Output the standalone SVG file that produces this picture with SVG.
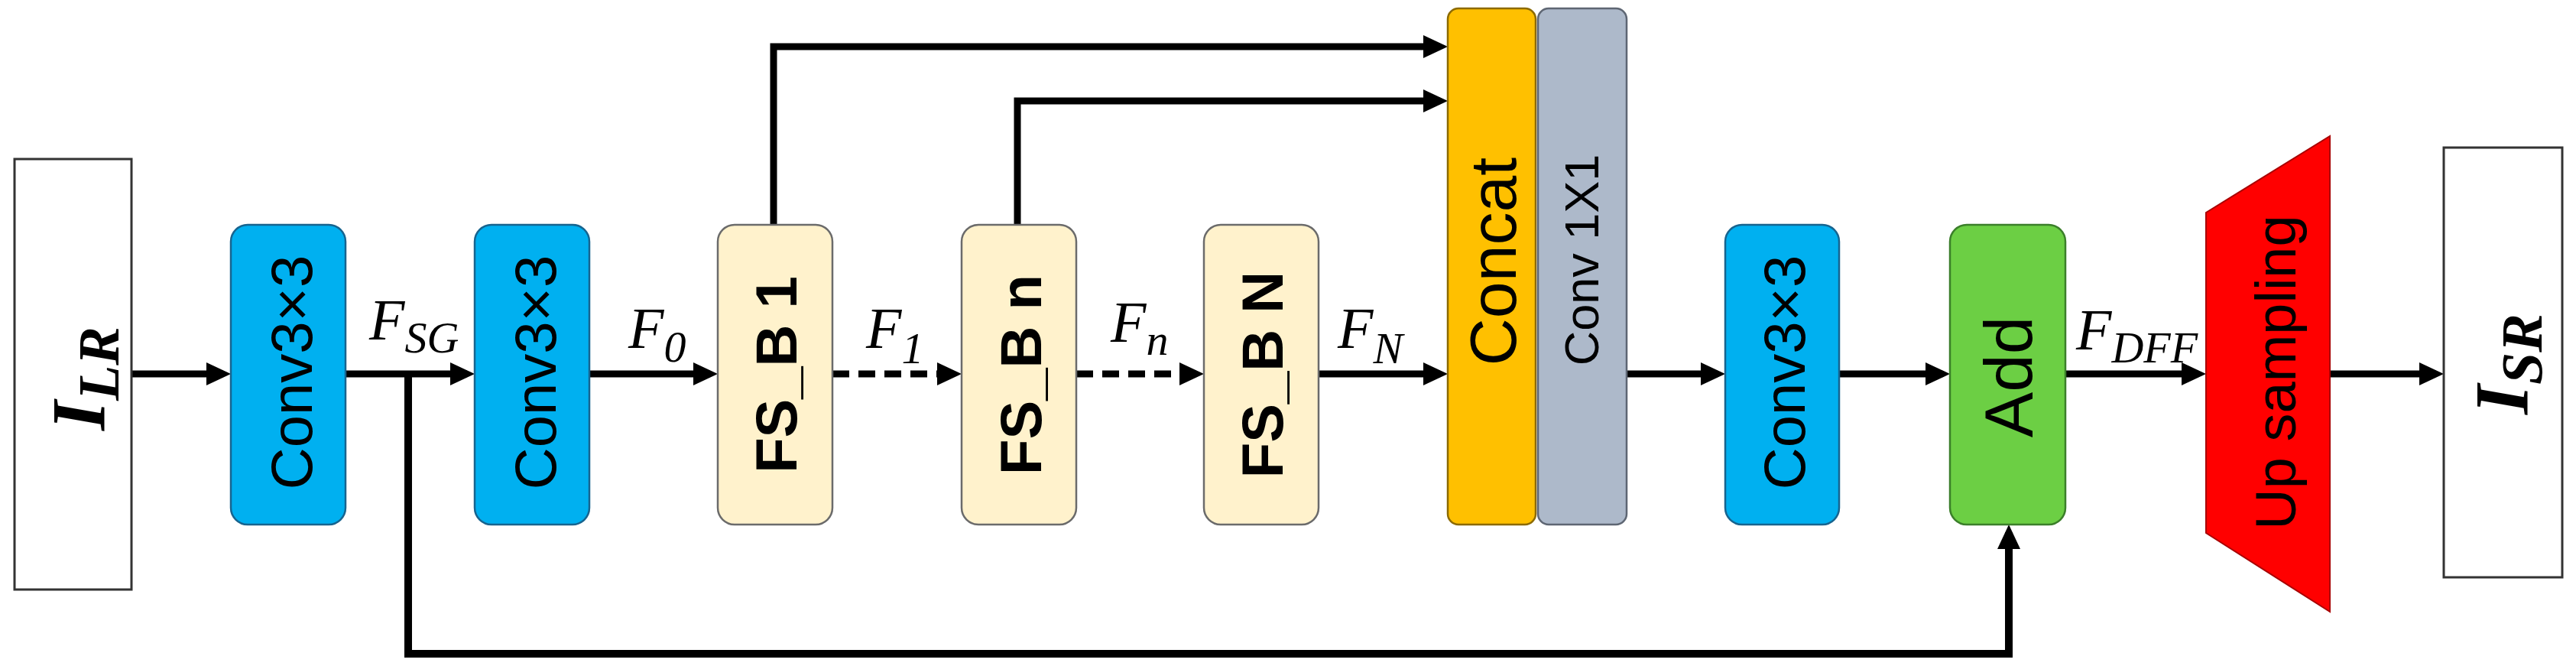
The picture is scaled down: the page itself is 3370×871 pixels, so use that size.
<svg xmlns="http://www.w3.org/2000/svg" width="3370" height="871" viewBox="0 0 3370 871">
  <style>
    .conv { fill: #00B0F0; stroke: #17648F; stroke-width: 2.5; }
    .fsb { fill: #FFF2CC; stroke: #6B6B6B; stroke-width: 2.5; }
    .concat { fill: #FFC000; stroke: #8C6A00; stroke-width: 2.5; }
    .c1 { fill: #ADB9CA; stroke: #5E6673; stroke-width: 2.5; }
    .add { fill: #6CCF44; stroke: #3B7F2A; stroke-width: 2.5; }
    .up { fill: #FF0000; stroke: #A80000; stroke-width: 2; }
    .io { fill: #FFFFFF; stroke: #333333; stroke-width: 3; }
    .lbl { font-family: "Liberation Sans", Arial, sans-serif; fill: #000; text-anchor: middle; }
    .b { font-weight: bold; }
    .math { font-family: "Liberation Serif", "Times New Roman", serif; font-style: italic; fill: #000; }
    .mb { font-family: "Liberation Serif", "Times New Roman", serif; font-style: italic; font-weight: bold; fill: #000; text-anchor: middle; }
    .ln { fill: none; stroke: #000; stroke-width: 9; }
    .dash { stroke-dasharray: 22 12; }
  </style>
  <defs>
    <marker id="arr" markerUnits="userSpaceOnUse" markerWidth="32" markerHeight="30" viewBox="0 0 32 30" refX="22" refY="15" orient="auto">
      <path d="M0,0 L32,15 L0,30 z" fill="#000"/>
    </marker>
  </defs>

  <g id="connectors">
    <path class="ln" d="M172,489 H292" marker-end="url(#arr)"/>
    <path class="ln" d="M452,489 H611" marker-end="url(#arr)"/>
    <path class="ln" d="M771,489 H929" marker-end="url(#arr)"/>
    <path class="ln dash" d="M1089,489 H1248" marker-end="url(#arr)"/>
    <path class="ln dash" d="M1408,489 H1565" marker-end="url(#arr)"/>
    <path class="ln" d="M1725,489 H1884" marker-end="url(#arr)"/>
    <path class="ln" d="M2128,489 H2247" marker-end="url(#arr)"/>
    <path class="ln" d="M2406,489 H2541" marker-end="url(#arr)"/>
    <path class="ln" d="M2702,489 H2876" marker-end="url(#arr)"/>
    <path class="ln" d="M3048,489 H3187" marker-end="url(#arr)"/>
    <path class="ln" d="M1012,294 V61 H1884" marker-end="url(#arr)"/>
    <path class="ln" d="M1331,294 V132 H1884" marker-end="url(#arr)"/>
    <path class="ln" d="M534,489 V855 H2628 V696" marker-end="url(#arr)" style="stroke-width:10"/>
    <text class="math" x="483" y="444" font-size="76">F<tspan font-size="58" dy="17">SG</tspan></text>
    <text class="math" x="822" y="455" font-size="76">F<tspan font-size="58" dy="18">0</tspan></text>
    <text class="math" x="1133" y="455" font-size="76">F<tspan font-size="58" dy="20">1</tspan></text>
    <text class="math" x="1453" y="447" font-size="76">F<tspan font-size="58" dy="17">n</tspan></text>
    <text class="math" x="1750" y="455" font-size="76">F<tspan font-size="58" dy="20">N</tspan></text>
    <text class="math" x="2716" y="457" font-size="76">F<tspan font-size="58" dy="17">DFF</tspan></text>
  </g>

  <g id="I_LR">
    <rect class="io" x="19" y="208" width="153" height="563"/>
    <text class="mb" transform="translate(136,495) rotate(-90)" font-size="100">I<tspan font-size="76" dy="19">LR</tspan></text>
  </g>

  <g id="conv1">
    <rect class="conv" x="302" y="294" width="150" height="392" rx="22"/>
    <text class="lbl" transform="translate(381,487) rotate(-90)" font-size="76" dy="0.35em">Conv3×3</text>
  </g>

  <g id="conv2">
    <rect class="conv" x="621" y="294" width="150" height="392" rx="22"/>
    <text class="lbl" transform="translate(700,487) rotate(-90)" font-size="76" dy="0.35em">Conv3×3</text>
  </g>

  <g id="fsb1">
    <rect class="fsb" x="939" y="294" width="150" height="392" rx="22"/>
    <text class="lbl b" transform="translate(1015,490) rotate(-90)" font-size="76" dy="0.35em">FS_B 1</text>
  </g>

  <g id="fsbn">
    <rect class="fsb" x="1258" y="294" width="150" height="392" rx="22"/>
    <text class="lbl b" transform="translate(1335,490) rotate(-90)" font-size="76" dy="0.35em">FS_B n</text>
  </g>

  <g id="fsbN">
    <rect class="fsb" x="1575" y="294" width="150" height="392" rx="22"/>
    <text class="lbl b" transform="translate(1651,490) rotate(-90)" font-size="76" dy="0.35em">FS_B N</text>
  </g>

  <g id="concat">
    <rect class="concat" x="1894" y="11" width="115" height="675" rx="14"/>
    <text class="lbl" transform="translate(1953,342) rotate(-90)" font-size="86" dy="0.35em">Concat</text>
  </g>

  <g id="conv1x1">
    <rect class="c1" x="2012" y="11" width="116" height="675" rx="14"/>
    <text class="lbl" transform="translate(2069,340) rotate(-90)" font-size="63" dy="0.35em">Conv 1X1</text>
  </g>

  <g id="conv3">
    <rect class="conv" x="2257" y="294" width="149" height="392" rx="22"/>
    <text class="lbl" transform="translate(2334,487) rotate(-90)" font-size="76" dy="0.35em">Conv3×3</text>
  </g>

  <g id="add">
    <rect class="add" x="2551" y="294" width="151" height="392" rx="22"/>
    <text class="lbl" transform="translate(2628,493) rotate(-90)" font-size="89" dy="0.35em">Add</text>
  </g>

  <g id="upsampling">
    <polygon class="up" points="2886,278 3048,178 3048,800 2886,697"/>
    <text class="lbl" transform="translate(2977,487) rotate(-90)" font-size="74" dy="0.35em">Up sampling</text>
  </g>

  <g id="I_SR">
    <rect class="io" x="3197" y="193" width="155" height="562"/>
    <text class="mb" transform="translate(3306,476) rotate(-90)" font-size="100">I<tspan font-size="76" dy="19">SR</tspan></text>
  </g>
</svg>
